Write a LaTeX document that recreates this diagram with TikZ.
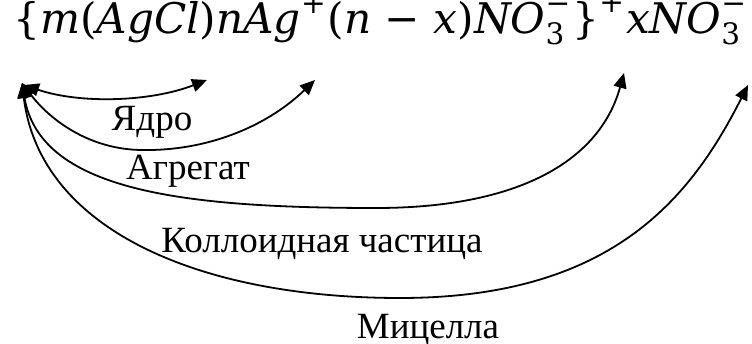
\documentclass[tikz,border=0pt]{standalone}
\usepackage{amsmath}
\usepackage{fontspec}
\setmainfont{Liberation Serif}
\newfontfamily\fmfam{DejaVu Serif}
\newcommand\fmi[1]{\text{\fmfam\itshape #1}}
\newcommand\fmu[1]{\text{\fmfam #1}}
\usepackage{graphicx}
\usetikzlibrary{arrows.meta}
\begin{document}
\begin{tikzpicture}[x=1pt,y=-1pt,
  conn/.style={line width=1.8pt,
    {Triangle[length=15pt,width=13pt]}-{Triangle[length=15pt,width=13pt]}},
  lbl/.style={font=\rmfamily\fontsize{37}{40}\selectfont, inner sep=0pt, anchor=base}]
\useasboundingbox (0,0) rectangle (752,344);
\node[anchor=base west, inner sep=0pt] (f) at (13,34)
  {\resizebox{735pt}{!}{$\fmu{\{}\fmi{m}\fmu{(}\fmi{AgCl}\fmu{)}\fmi{nAg}^{\fmu{+}}\fmu{(}\fmi{n}\fmu{ − }\fmi{x}\fmu{)}\fmi{NO}_{\fmu{3}}^{\fmu{−}}\fmu{\}}^{\fmu{+}}\fmi{xNO}_{\fmu{3}}^{\fmu{−}}$}};
\coordinate (o1) at (24,85);
\coordinate (o) at (22,83);
\coordinate (tcore) at (207,80);
\coordinate (tagg) at (315,80);
\coordinate (tcol) at (624,73);
\coordinate (tmic) at (748,85);
\coordinate (bagg) at (143,150);
\coordinate (bcol) at (376,208);
\coordinate (bmic) at (400,298);
\node[lbl] (lcore) at (152,131) {Ядро};
\node[lbl] (lagg) at (188,180) {Агрегат};
\node[lbl] (lcol) at (322,253) {Коллоидная частица};
\node[lbl] (lmic) at (428,338) {Мицелла};
\draw[conn] (o1) .. controls (80,104) and (150,102) .. (tcore);
\draw[conn] (o) .. controls (50,120) and (90,150) .. (bagg)
  .. controls (205,151) and (265,128) .. (tagg);
\draw[conn] (o) .. controls (40,190) and (180,208) .. (bcol)
  .. controls (520,208) and (600,160) .. (tcol);
\draw[conn] (o) .. controls (40,230) and (200,298) .. (bmic)
  .. controls (610,298) and (690,200) .. (tmic);
\end{tikzpicture}
\end{document}
